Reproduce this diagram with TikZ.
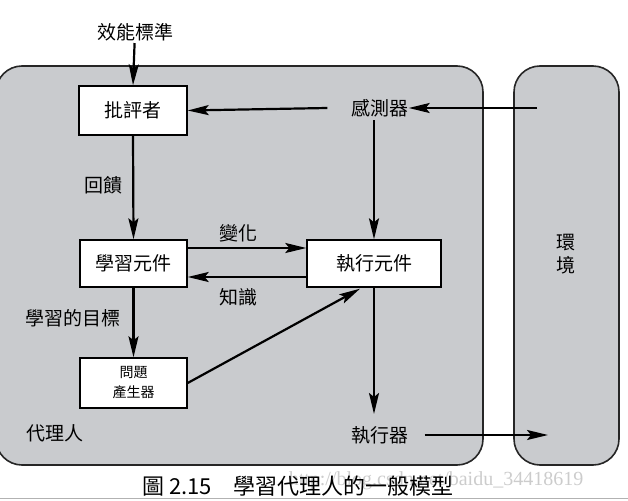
\documentclass[tikz,border=0pt]{standalone}
\usepackage{fontspec}
\setmainfont{Noto Sans CJK TC}
\newfontfamily\wmfont{Liberation Serif}
\usetikzlibrary{arrows.meta,calc}
\definecolor{panel}{RGB}{201,203,206}
\begin{document}
\begin{tikzpicture}[x=1pt,y=-1pt,
  panelbox/.style={draw=black!85,line width=1.6pt,fill=panel,rounded corners=26pt,inner sep=0pt},
  compbox/.style={draw=black,line width=1.4pt,fill=white,inner sep=0pt,font=\fontsize{19}{22}\selectfont},
  lbl/.style={font=\fontsize{19}{22}\selectfont,inner sep=0pt},
  flow/.style={line width=2.2pt,-{Stealth[length=21pt,width=10pt,inset=4pt]}}
]
\useasboundingbox (0,0) rectangle (628,500);
% panels
\node[panelbox,minimum width=487pt,minimum height=399pt] (agent) at (239.5,265.5) {};
\node[panelbox,minimum width=105pt,minimum height=399pt] (env) at (566.5,265.5) {};
\node[lbl,align=center,font=\fontsize{19}{23}\selectfont] (envlbl) at (566,254) {環\\境};
\node[lbl] (agentlbl) at (55,433) {代理人};
% components
\node[compbox,minimum width=108pt,minimum height=49pt] (critic) at (133,110.5) {批評者};
\node[compbox,minimum width=107pt,minimum height=47pt] (learn) at (133.5,263.5) {學習元件};
\node[compbox,minimum width=134pt,minimum height=47pt] (perf) at (374,263.5) {執行元件};
\node[compbox,minimum width=107pt,minimum height=50pt,align=center,font=\fontsize{14}{20}\selectfont] (probgen) at (133.5,383) {問題\\產生器};
\node[lbl,inner sep=3pt] (sensor) at (380,108) {感測器};
\node[lbl,inner sep=3pt] (act) at (380,435) {執行器};
\node[lbl] (std) at (135,32) {效能標準};
% labels
\node[lbl] (fb) at (103,185) {回饋};
\node[lbl] (chg) at (238,233) {變化};
\node[lbl] (know) at (238,297) {知識};
\node[lbl] (goal) at (72.5,318) {學習的目標};
% free ends
\coordinate (envin) at (537,108);
\coordinate (actout) at (548,435);
% connectors
\draw[flow,shorten <=2pt] (std) -- (critic.north);
\draw[flow,shorten >=-3pt] (envin) -- (sensor.east);
\draw[flow] ($(sensor.west)+(-21,0)$) -- (critic.east);
\draw[flow] (sensor.south -| perf.north) -- (perf.north);
\draw[flow] (critic.south) -- (learn.north);
\draw[flow] ($(learn.east)+(0,-15.5)$) -- ($(perf.west)+(0,-15.5)$);
\draw[flow] ($(perf.west)+(0,13.5)$) -- ($(learn.east)+(0,13.5)$);
\draw[flow] (learn.south) -- (probgen.north);
\draw[flow] (probgen.east) -- ($(perf.south)+(-14,1)$);
\draw[flow,shorten >=9pt] (perf.south) -- (perf.south |- act.north);
\draw[flow,shorten <=13pt] (act.east) -- (actout);
% caption
\node[font=\wmfont\fontsize{20}{22}\selectfont,text=black!20,inner sep=0pt] (wm) at (436,481) {http://blog.csdn.net/baidu\_34418619};
\node[font=\fontsize{22}{24}\selectfont,anchor=west,inner sep=0pt] (cap) at (142,486.5) {圖 2.15\hspace{22pt}學習代理人的一般模型};
\draw[black!30,line width=1pt] (0,498.5) -- (628,498.5);
\end{tikzpicture}
\end{document}
